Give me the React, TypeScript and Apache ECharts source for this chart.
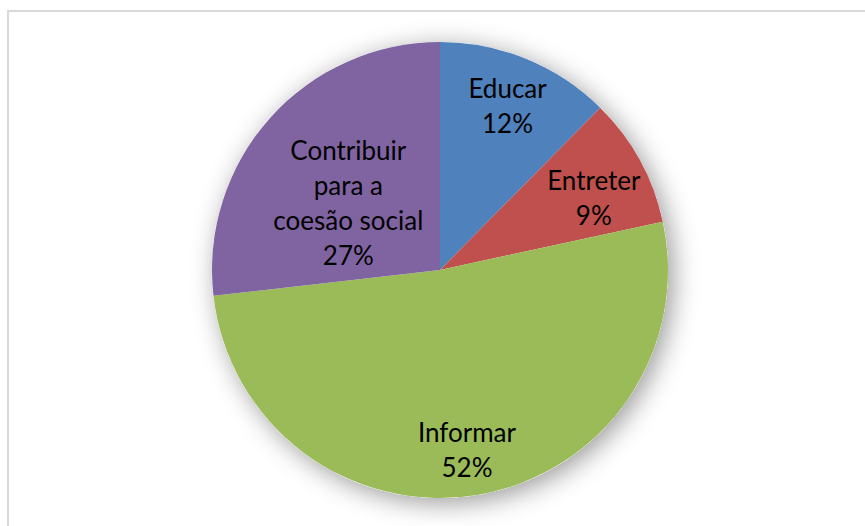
import React, { useEffect, useRef } from "react";
import * as echarts from "echarts";

const categories = ["Educar", "Entreter", "Informar", "Contribuir\npara a\ncoesão social"];
const values = [12.4, 9.2, 51.6, 26.8];
const colors = ["#4F81BD", "#C0504D", "#9BBB59", "#8064A2"];
const labelRadiusFrac = [0.78, 0.745, 0.795, 0.5];
const labelAngleShift = [0, 3.7, 0.8, -5.3];

const CX = 440;
const CY = 270;
const R = 228;

export default function App() {
  const ref = useRef<HTMLDivElement>(null);
  useEffect(() => {
    document.body.style.margin = "0";
    const chart = echarts.init(ref.current!, null, { renderer: "svg" });
    const total = values.reduce((a, b) => a + b, 0);
    const mids: number[] = [];
    let acc = 0;
    values.forEach((v, i) => {
      mids.push(((acc + v / 2) / total) * Math.PI * 2 + (labelAngleShift[i] * Math.PI) / 180);
      acc += v;
    });
    chart.setOption({
      animation: false,
      backgroundColor: "#ffffff",
      graphic: [
        {
          type: "rect",
          shape: { x: 8, y: 11, width: 900, height: 600 },
          style: { fill: "none", stroke: "#d9d9d9", lineWidth: 2 },
          z: -10,
        },
      ],
      series: [
        {
          type: "pie",
          silent: true,
          center: [CX, CY],
          radius: R,
          z: 1,
          label: { show: false },
          labelLine: { show: false },
          itemStyle: {
            color: "#ffffff",
            shadowBlur: 26,
            shadowColor: "rgba(0,0,0,0.4)",
            shadowOffsetX: 5,
            shadowOffsetY: 5,
          },
          data: [{ value: 1, name: "bg" }],
        },
        {
          type: "pie",
          center: [CX, CY],
          radius: R,
          startAngle: 90,
          clockwise: true,
          z: 2,
          itemStyle: { borderWidth: 0 },
          label: {
            show: true,
            position: "inside",
            fontFamily: "Lato",
            fontSize: 26,
            lineHeight: 35,
            color: "#000000",
            align: "center",
            formatter: (p: any) => `${p.name}\n${Math.round(p.percent)}%`,
          },
          labelLine: { show: false },
          labelLayout: (p: any) => {
            const i = p.dataIndex;
            const a = mids[i];
            const rr = R * labelRadiusFrac[i];
            return {
              x: CX + rr * Math.sin(a),
              y: CY - rr * Math.cos(a),
              align: "center",
              verticalAlign: "middle",
            };
          },
          data: categories.map((c, i) => ({
            name: c,
            value: values[i],
            itemStyle: { color: colors[i] },
          })),
        },
      ],
    });
    return () => chart.dispose();
  }, []);
  return <div ref={ref} style={{ width: 865, height: 526 }} />;
}
